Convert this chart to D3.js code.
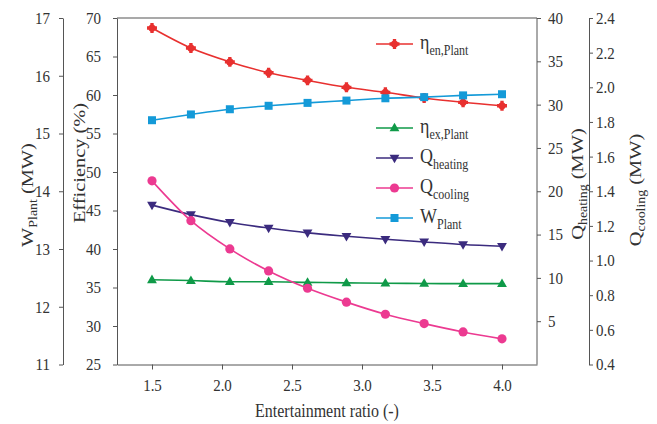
<!DOCTYPE html>
<html><head><meta charset="utf-8">
<script src="https://cdn.jsdelivr.net/npm/d3@7"></script>
<style>
body{margin:0;background:#fff;}
svg text{font-family:"Liberation Serif","Times New Roman",serif;fill:#333;}
</style></head>
<body><svg id="c" width="657" height="424"></svg>
<script>
const ratio = [1.5, 1.778, 2.056, 2.333, 2.611, 2.889, 3.167, 3.444, 3.722, 4.0];
const etaEn = [68.7, 66.1, 64.3, 62.9, 61.9, 61.0, 60.35, 59.6, 59.05, 58.6];
const etaEx = [36.0, 35.9, 35.75, 35.75, 35.67, 35.6, 35.55, 35.52, 35.5, 35.5];
const qHeating = [18.4, 17.3, 16.4, 15.75, 15.2, 14.8, 14.45, 14.15, 13.85, 13.65];
const qCooling = [1.46, 1.23, 1.067, 0.94, 0.84, 0.76, 0.69, 0.636, 0.588, 0.548];
const wPlant = [15.23, 15.33, 15.42, 15.48, 15.53, 15.57, 15.61, 15.63, 15.66, 15.68];
const xTicks = [1.5, 2.0, 2.5, 3.0, 3.5, 4.0];
const effTicks = [25, 30, 35, 40, 45, 50, 55, 60, 65, 70];
const wTicks = [11, 12, 13, 14, 15, 16, 17];
const qhTicks = [5, 10, 15, 20, 25, 30, 35, 40];
const qcTicks = [0.4, 0.6, 0.8, 1.0, 1.2, 1.4, 1.6, 1.8, 2.0, 2.2, 2.4];

const svg = d3.select("#c");
const L = 117, R = 537, T = 18, B = 364.5;
const axisColor = "#555";
const SY = 1.13;

const x = d3.scaleLinear().domain([1.25, 4.25]).range([L, R]);
const yEff = d3.scaleLinear().domain([25, 70]).range([B, T]);
const yW = d3.scaleLinear().domain([11, 17]).range([B, T]);
const yQh = d3.scaleLinear().domain([0, 40]).range([B, T]);
const yQc = d3.scaleLinear().domain([0.4, 2.4]).range([B, T]);

function styleAxis(g, fs) {
  g.selectAll("path,line").attr("stroke", axisColor).attr("stroke-width", 1);
  g.selectAll("text").attr("fill", "#333").attr("font-size", fs)
    .attr("font-family", "Liberation Serif, serif")
    .attr("transform", `scale(1,${SY})`);
}

// frame top line
svg.append("line").attr("x1", L).attr("x2", R).attr("y1", T).attr("y2", T)
  .attr("stroke", axisColor).attr("stroke-width", 1.2);

// x axis
const gx = svg.append("g").attr("transform", `translate(0,${B})`)
  .call(d3.axisBottom(x).tickValues(xTicks).tickFormat(d3.format(".1f")).tickSizeInner(5).tickSizeOuter(0).tickPadding(8));
styleAxis(gx, 15);

// efficiency axis
const ge = svg.append("g").attr("transform", `translate(${L},0)`)
  .call(d3.axisLeft(yEff).tickValues(effTicks).tickFormat(d3.format("d")).tickSizeInner(4).tickSizeOuter(0).tickPadding(12));
styleAxis(ge, 15);

// W axis
const gw = svg.append("g").attr("transform", `translate(63,0)`)
  .call(d3.axisLeft(yW).tickValues(wTicks).tickFormat(d3.format("d")).tickSizeInner(4).tickSizeOuter(0).tickPadding(9));
styleAxis(gw, 15);

// Q heating axis
const gh = svg.append("g").attr("transform", `translate(${R},0)`)
  .call(d3.axisRight(yQh).tickValues(qhTicks).tickFormat(d3.format("d")).tickSizeInner(4).tickSizeOuter(0).tickPadding(7));
gh.select(".domain").attr("d", `M0,${B}V${T}`);
styleAxis(gh, 15);

// Q cooling axis
const gc = svg.append("g").attr("transform", `translate(589,0)`)
  .call(d3.axisRight(yQc).tickValues(qcTicks).tickFormat(d3.format(".1f")).tickSizeInner(4).tickSizeOuter(0).tickPadding(3));
styleAxis(gc, 15);

// axis titles
function rotTitle(cx, cy, parts, fs, stretch) {
  const t = svg.append("text")
    .attr("transform", `translate(${cx},${cy}) rotate(-90) scale(${stretch},1)`)
    .attr("text-anchor", "middle").attr("font-size", fs);
  parts.forEach(p => {
    const ts = t.append("tspan").text(p.t);
    if (p.sub) ts.attr("font-size", fs * 0.68).attr("dy", fs * 0.25);
    if (p.up) ts.attr("dy", -fs * 0.25);
  });
  return t;
}
rotTitle(33, 195, [{t: "W"}, {t: "Plant", sub: true}, {t: " (MW)", up: true}], 17, 1.2);
rotTitle(85, 163, [{t: "Efficiency (%)"}], 17, 1.2);
rotTitle(583, 184, [{t: "Q"}, {t: "heating", sub: true}, {t: " (MW)", up: true}], 17, 1.2);
rotTitle(641, 190, [{t: "Q"}, {t: "cooling", sub: true}, {t: " (MW)", up: true}], 17, 1.2);

svg.append("text").attr("x", 327).attr("y", 417).attr("text-anchor", "middle")
  .attr("font-size", 16).attr("transform", `translate(0,${-417*(SY-1)}) scale(1,${SY})`)
  .text("Entertainment ratio (-)");

// series
const series = [
  {name: "η", sub: "en,Plant", vals: etaEn, y: yEff, color: "#e8302f", mark: "plus", ly: 44},
  {name: "η", sub: "ex,Plant", vals: etaEx, y: yEff, color: "#0f9a48", mark: "triUp", ly: 128},
  {name: "Q", sub: "heating", vals: qHeating, y: yQh, color: "#3b2b7e", mark: "triDown", ly: 158},
  {name: "Q", sub: "cooling", vals: qCooling, y: yQc, color: "#ec3a91", mark: "circle", ly: 188},
  {name: "W", sub: "Plant", vals: wPlant, y: yW, color: "#149ad8", mark: "square", ly: 218}
];

function drawMarker(g, type, color, cx, cy) {
  if (type === "plus") {
    g.append("circle").attr("cx", cx).attr("cy", cy).attr("r", 3.6).attr("fill", color);
    g.append("path").attr("d", d3.symbol(d3.symbolCross, 55)()).attr("transform", `translate(${cx},${cy})`).attr("fill", color);
  } else if (type === "triUp") {
    g.append("path").attr("d", d3.symbol(d3.symbolTriangle, 42)()).attr("transform", `translate(${cx},${cy+0.5})`).attr("fill", color);
  } else if (type === "triDown") {
    g.append("path").attr("d", d3.symbol(d3.symbolTriangle, 42)()).attr("transform", `translate(${cx},${cy-0.5}) rotate(180)`).attr("fill", color);
  } else if (type === "circle") {
    g.append("circle").attr("cx", cx).attr("cy", cy).attr("r", 4.6).attr("fill", color);
  } else if (type === "square") {
    g.append("rect").attr("x", cx - 4).attr("y", cy - 4).attr("width", 8).attr("height", 8).attr("fill", color);
  }
}

const line = d3.line().curve(d3.curveMonotoneX);
series.forEach(s => {
  const g = svg.append("g");
  const pts = ratio.map((r, i) => [x(r), s.y(s.vals[i])]);
  g.append("path").attr("d", line(pts)).attr("fill", "none").attr("stroke", s.color).attr("stroke-width", 1.6);
  pts.forEach(p => drawMarker(g, s.mark, s.color, p[0], p[1]));
});

// legend
series.forEach(s => {
  const g = svg.append("g");
  g.append("line").attr("x1", 376).attr("x2", 413).attr("y1", s.ly).attr("y2", s.ly)
    .attr("stroke", s.color).attr("stroke-width", 1.6);
  drawMarker(g, s.mark, s.color, 394.5, s.ly);
  const t = g.append("text").attr("x", 420).attr("y", s.ly + 5).attr("font-size", 18)
    .attr("transform", `translate(0,${-(s.ly + 5) * (SY - 1)}) scale(1,${SY})`);
  t.append("tspan").text(s.name);
  t.append("tspan").text(s.sub).attr("font-size", 12).attr("dy", 5);
});
</script></body></html>
